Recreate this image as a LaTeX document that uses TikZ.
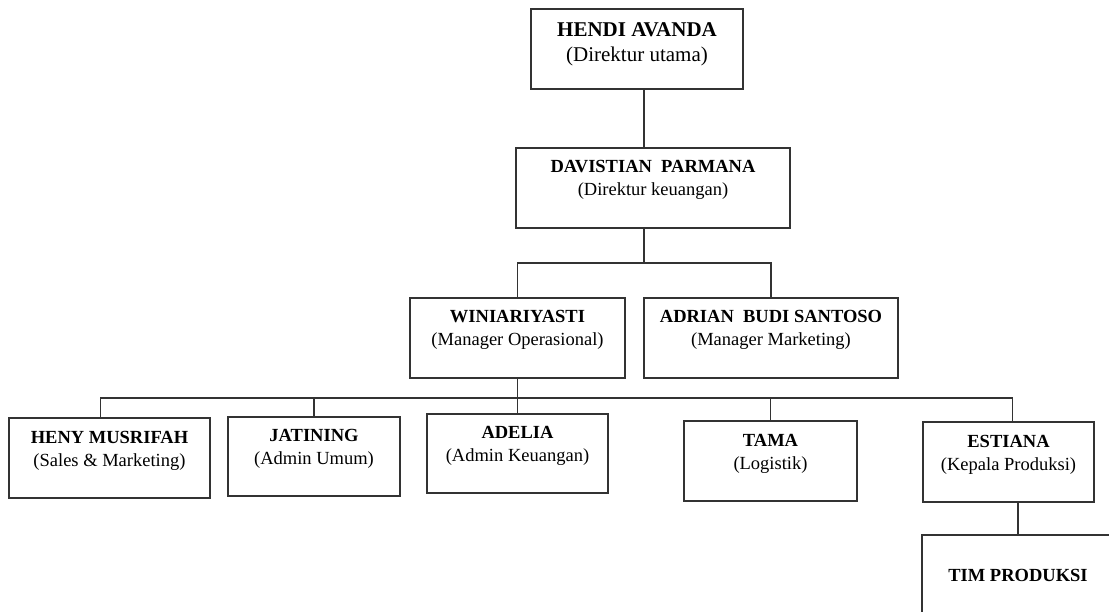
\documentclass[tikz,border=0pt]{standalone}
\usepackage{fontspec}
\setmainfont{Liberation Serif}
\tikzset{
  unit/.style={draw=black!80, line width=1.2pt, align=center, inner sep=0pt,
    minimum height=80pt, font=\fontsize{18.5}{23}\selectfont},
  staff/.style={unit, text height=38pt, text depth=22pt},
  link/.style={black!80, line width=1.2pt},
}
\begin{document}
\begin{tikzpicture}[x=1pt,y=-1pt]
  \useasboundingbox (0,0) rectangle (1109,612);
  % direksi
  \node[staff, minimum width=212pt, font=\fontsize{21}{25}\selectfont,
    text height=38pt, text depth=12pt] (hendi) at (637,49)
    {\textbf{HENDI AVANDA}\\(Direktur utama)};
  \node[staff, minimum width=274pt] (davistian) at (653,188)
    {\textbf{DAVISTIAN\ \ PARMANA}\\(Direktur\ keuangan)};
  % manager
  \node[staff, minimum width=215pt] (wini) at (517.5,338)
    {\textbf{WINIARIYASTI}\\(Manager Operasional)};
  \node[staff, minimum width=254pt] (adrian) at (771,338)
    {\textbf{ADRIAN\ \ BUDI SANTOSO}\\(Manager Marketing)};
  % staf
  \node[staff, minimum width=201pt] (heny) at (109.5,458)
    {\textbf{HENY MUSRIFAH}\\(Sales \& Marketing)};
  \node[staff, minimum width=172pt, minimum height=79pt] (jatining) at (314,456.5)
    {\textbf{JATINING}\\(Admin Umum)};
  \node[staff, minimum width=181pt, minimum height=79pt] (adelia) at (517.5,453.5)
    {\textbf{ADELIA}\\(Admin Keuangan)};
  \node[staff, minimum width=173pt] (tama) at (770.5,461)
    {\textbf{TAMA}\\(Logistik)};
  \node[staff, minimum width=171pt] (estiana) at (1008.5,462)
    {\textbf{ESTIANA}\\(Kepala Produksi)};
  \node[unit, minimum width=192pt] (tim) at (1018,575) {\textbf{TIM PRODUKSI}};
  % garis
  \coordinate (bus1) at (0,263);
  \coordinate (bus2) at (0,398);
  \coordinate (trunk) at ([xshift=7pt]hendi.south);
  \draw[link] (trunk) -- (trunk |- davistian.north);
  \draw[link] (trunk |- davistian.south) -- (trunk |- bus1);
  \draw[link] (wini.north) |- (adrian.north |- bus1) -- (adrian.north);
  \draw[link] (wini.south) -- (adelia.north);
  \draw[link] ([xshift=-9pt]heny.north) |- ([xshift=4pt]estiana.north |- bus2)
    -- ([xshift=4pt]estiana.north);
  \foreach \s in {jatining,tama}
    \draw[link] (\s.north) -- (\s.north |- bus2);
  \draw[link] (tim.north) -- (tim.north |- estiana.south);
\end{tikzpicture}
\end{document}
